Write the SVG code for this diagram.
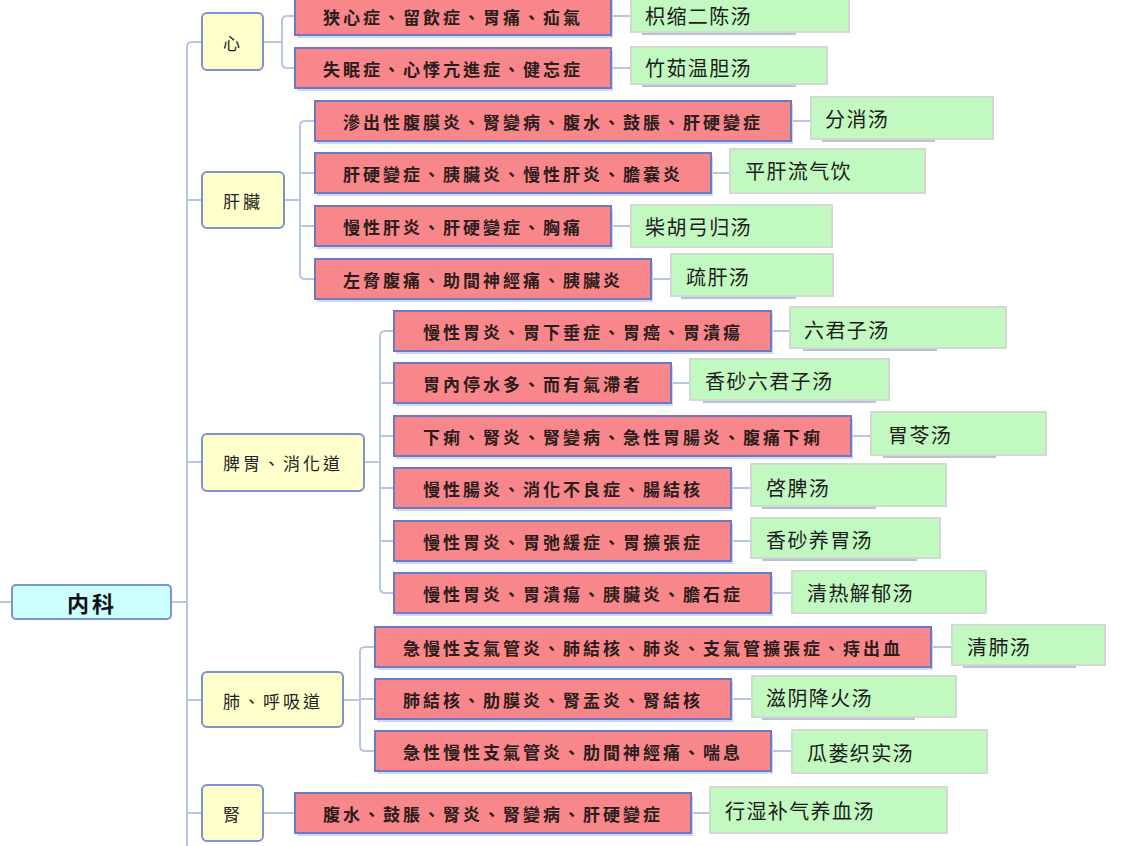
<svg xmlns="http://www.w3.org/2000/svg" width="1126" height="846" viewBox="0 0 1126 846">
<style>
.root{fill:#ccffff;stroke:#7b93d2;stroke-width:2}
.cat{fill:#ffffcc;stroke:#7b93d2;stroke-width:2}
.dis{fill:#f8878b;stroke:#6a7ac4;stroke-width:2}
.dsh{fill:#cfd8ee}
.rx{fill:#c2f9c0;stroke:#d2d8d2;stroke-width:2}
.rsh{fill:#b9c1d2}
.con{fill:none;stroke:#b7c6e6;stroke-width:2}
.tr{font-family:"Noto Sans CJK TC","Noto Sans CJK SC",sans-serif;font-size:17px;letter-spacing:3px;font-weight:bold;fill:#2c1c1c;dominant-baseline:central}
.tc{font-family:"Noto Sans CJK TC","Noto Sans CJK SC",sans-serif;font-size:17px;letter-spacing:3px;fill:#222;dominant-baseline:central}
.tg{font-family:"Noto Sans CJK SC",sans-serif;font-size:20px;letter-spacing:1.4px;fill:#1c1c1c;dominant-baseline:central}
.tt{font-family:"Noto Sans CJK TC","Noto Sans CJK SC",sans-serif;font-size:22px;letter-spacing:3px;font-weight:bold;fill:#111;dominant-baseline:central}
</style>
<rect width="1126" height="846" fill="#ffffff"/>
<g id="connectors">
<path class="con" d="M0,602 H12"/>
<path class="con" d="M171,602 H187"/>
<path class="con" d="M202,42 H192 Q187,42 187,47 V846"/>
<path class="con" d="M187,200 H202 M187,462 H202 M187,700 H202 M187,813 H202"/>
<path class="con" d="M263,42 H282"/>
<path class="con" d="M295,16 H287 Q282,16 282,21 V63 Q282,68 287,68 H295"/>
<path class="con" d="M284,200 H300"/>
<path class="con" d="M315,121 H305 Q300,121 300,126 V274 Q300,279 305,279 H315 M300,173 H315 M300,226 H315"/>
<path class="con" d="M364,462 H380"/>
<path class="con" d="M394,331 H385 Q380,331 380,336 V588 Q380,593 385,593 H394 M380,383 H394 M380,436 H394 M380,488 H394 M380,541 H394"/>
<path class="con" d="M343,700 H360"/>
<path class="con" d="M375,647 H365 Q360,647 360,652 V746 Q360,751 365,751 H375 M360,699 H375"/>
<path class="con" d="M263,813 H295"/>
<path class="con" d="M611,16 H631 M611,68 H631 M791,121 H811 M711,173 H730 M611,226 H631 M651,279 H671 M771,331 H790 M671,383 H690 M851,436 H871 M731,488 H751 M731,541 H751 M771,593 H792 M931,647 H952 M731,699 H752 M771,751 H792 M691,813 H710"/>
</g>
<g id="n-root">
<rect class="root" x="12" y="585" width="159" height="34" rx="4"/>
<text class="tt" x="67" y="602">内科</text>
</g>
<g id="n-xin">
<rect class="cat" x="202" y="13" width="61" height="57" rx="5"/>
<text class="tc" x="223" y="42">心</text>
</g>
<g id="n-gan">
<rect class="cat" x="202" y="172" width="82" height="56" rx="5"/>
<text class="tc" x="223" y="200">肝臟</text>
</g>
<g id="n-pi">
<rect class="cat" x="202" y="434" width="162" height="57" rx="5"/>
<text class="tc" x="223" y="462">脾胃、消化道</text>
</g>
<g id="n-fei">
<rect class="cat" x="202" y="672" width="141" height="55" rx="5"/>
<text class="tc" x="223" y="700">肺、呼吸道</text>
</g>
<g id="n-shen">
<rect class="cat" x="202" y="785" width="61" height="56" rx="5"/>
<text class="tc" x="223" y="813">腎</text>
</g>
<g id="d1"><rect class="dsh" x="297" y="-2" width="316" height="40"/><rect class="dis" x="295" y="-4" width="316" height="39"/><text class="tr" x="323" y="16">狭心症、留飲症、胃痛、疝氣</text></g>
<g id="d2"><rect class="dsh" x="297" y="51" width="316" height="40"/><rect class="dis" x="295" y="48" width="316" height="40"/><text class="tr" x="323" y="68">失眠症、心悸亢進症、健忘症</text></g>
<g id="d3"><rect class="dsh" x="317" y="104" width="476" height="40"/><rect class="dis" x="315" y="101" width="476" height="40"/><text class="tr" x="343" y="121">滲出性腹膜炎、腎變病、腹水、鼓脹、肝硬變症</text></g>
<g id="d4"><rect class="dsh" x="317" y="156" width="396" height="40"/><rect class="dis" x="315" y="153" width="396" height="40"/><text class="tr" x="343" y="173">肝硬變症、胰臟炎、慢性肝炎、膽囊炎</text></g>
<g id="d5"><rect class="dsh" x="317" y="209" width="296" height="40"/><rect class="dis" x="315" y="206" width="296" height="40"/><text class="tr" x="343" y="226">慢性肝炎、肝硬變症、胸痛</text></g>
<g id="d6"><rect class="dsh" x="317" y="262" width="336" height="40"/><rect class="dis" x="315" y="259" width="336" height="40"/><text class="tr" x="343" y="279">左脅腹痛、助間神經痛、胰臟炎</text></g>
<g id="d7"><rect class="dsh" x="396" y="314" width="377" height="40"/><rect class="dis" x="394" y="311" width="377" height="40"/><text class="tr" x="423" y="331">慢性胃炎、胃下垂症、胃癌、胃潰瘍</text></g>
<g id="d8"><rect class="dsh" x="396" y="366" width="277" height="40"/><rect class="dis" x="394" y="363" width="277" height="40"/><text class="tr" x="423" y="383">胃內停水多、而有氣滯者</text></g>
<g id="d9"><rect class="dsh" x="396" y="419" width="457" height="40"/><rect class="dis" x="394" y="416" width="457" height="40"/><text class="tr" x="423" y="436">下痢、腎炎、腎變病、急性胃腸炎、腹痛下痢</text></g>
<g id="d10"><rect class="dsh" x="396" y="471" width="337" height="40"/><rect class="dis" x="394" y="468" width="337" height="40"/><text class="tr" x="423" y="488">慢性腸炎、消化不良症、腸結核</text></g>
<g id="d11"><rect class="dsh" x="396" y="524" width="337" height="40"/><rect class="dis" x="394" y="521" width="337" height="40"/><text class="tr" x="423" y="541">慢性胃炎、胃弛緩症、胃擴張症</text></g>
<g id="d12"><rect class="dsh" x="396" y="576" width="377" height="40"/><rect class="dis" x="394" y="573" width="377" height="40"/><text class="tr" x="423" y="593">慢性胃炎、胃潰瘍、胰臟炎、膽石症</text></g>
<g id="d13"><rect class="dsh" x="377" y="630" width="556" height="40"/><rect class="dis" x="375" y="627" width="556" height="40"/><text class="tr" x="403" y="647">急慢性支氣管炎、肺結核、肺炎、支氣管擴張症、痔出血</text></g>
<g id="d14"><rect class="dsh" x="377" y="682" width="356" height="40"/><rect class="dis" x="375" y="679" width="356" height="40"/><text class="tr" x="403" y="699">肺結核、肋膜炎、腎盂炎、腎結核</text></g>
<g id="d15"><rect class="dsh" x="377" y="734" width="396" height="40"/><rect class="dis" x="375" y="731" width="396" height="40"/><text class="tr" x="403" y="751">急性慢性支氣管炎、肋間神經痛、喘息</text></g>
<g id="d16"><rect class="dsh" x="297" y="796" width="396" height="40"/><rect class="dis" x="295" y="793" width="396" height="40"/><text class="tr" x="323" y="813">腹水、鼓脹、腎炎、腎變病、肝硬變症</text></g>
<g id="r1"><rect class="rsh" x="642" y="32" width="154" height="3"/><rect class="rx" x="631" y="-3" width="218" height="35"/><text class="tg" x="645" y="15">枳缩二陈汤</text></g>
<g id="r2"><rect class="rsh" x="642" y="84" width="154" height="3"/><rect class="rx" x="631" y="47" width="196" height="37"/><text class="tg" x="645" y="67">竹茹温胆汤</text></g>
<g id="r3"><rect class="rsh" x="822" y="139" width="113" height="3"/><rect class="rx" x="811" y="97" width="182" height="42"/><text class="tg" x="825" y="118">分消汤</text></g>
<g id="r4"><rect class="rx" x="730" y="149" width="195" height="44"/><text class="tg" x="745" y="170">平肝流气饮</text></g>
<g id="r5"><rect class="rx" x="631" y="205" width="201" height="42"/><text class="tg" x="645" y="226">柴胡弓归汤</text></g>
<g id="r6"><rect class="rsh" x="681" y="296" width="115" height="3"/><rect class="rx" x="671" y="254" width="162" height="42"/><text class="tg" x="686" y="276">疏肝汤</text></g>
<g id="r7"><rect class="rsh" x="803" y="348" width="134" height="3"/><rect class="rx" x="790" y="307" width="216" height="41"/><text class="tg" x="804" y="329">六君子汤</text></g>
<g id="r8"><rect class="rsh" x="703" y="400" width="173" height="3"/><rect class="rx" x="690" y="359" width="199" height="41"/><text class="tg" x="705" y="380">香砂六君子汤</text></g>
<g id="r9"><rect class="rsh" x="883" y="455" width="113" height="3"/><rect class="rx" x="871" y="412" width="175" height="43"/><text class="tg" x="888" y="434">胃苓汤</text></g>
<g id="r10"><rect class="rsh" x="762" y="506" width="114" height="3"/><rect class="rx" x="751" y="464" width="195" height="42"/><text class="tg" x="766" y="487">啓脾汤</text></g>
<g id="r11"><rect class="rsh" x="762" y="558" width="155" height="3"/><rect class="rx" x="751" y="518" width="189" height="40"/><text class="tg" x="766" y="539">香砂养胃汤</text></g>
<g id="r12"><rect class="rx" x="792" y="571" width="194" height="42"/><text class="tg" x="807" y="592">清热解郁汤</text></g>
<g id="r13"><rect class="rsh" x="963" y="665" width="113" height="3"/><rect class="rx" x="952" y="625" width="153" height="40"/><text class="tg" x="967" y="646">清肺汤</text></g>
<g id="r14"><rect class="rsh" x="762" y="717" width="153" height="3"/><rect class="rx" x="752" y="676" width="204" height="41"/><text class="tg" x="766" y="697">滋阴降火汤</text></g>
<g id="r15"><rect class="rx" x="792" y="730" width="195" height="43"/><text class="tg" x="807" y="752">瓜蒌织实汤</text></g>
<g id="r16"><rect class="rx" x="710" y="787" width="237" height="46"/><text class="tg" x="725" y="810">行湿补气养血汤</text></g>
</svg>
